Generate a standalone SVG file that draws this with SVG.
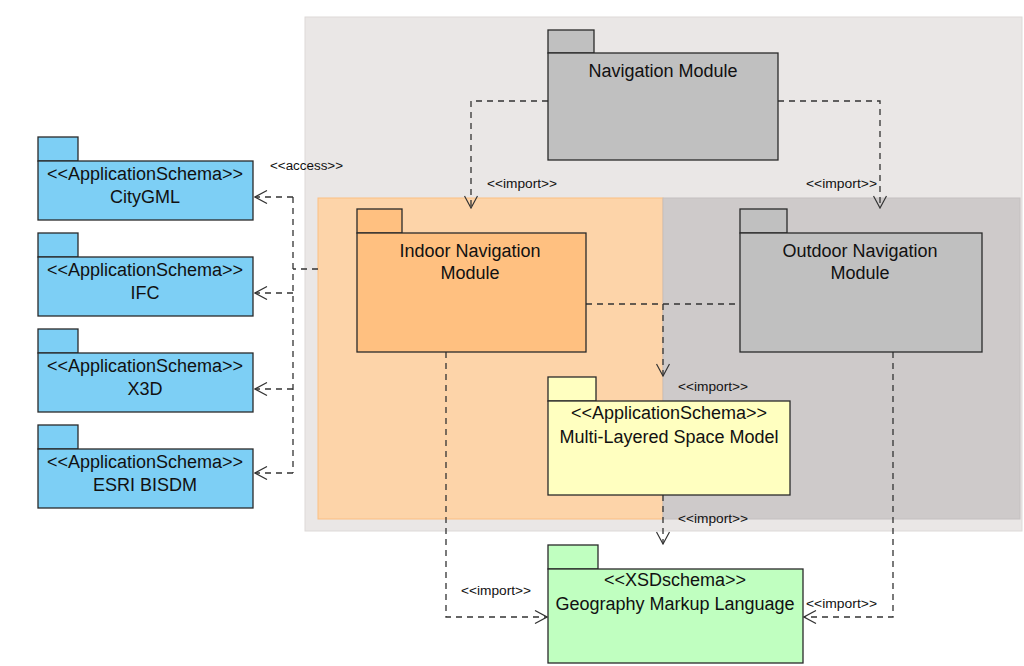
<svg xmlns="http://www.w3.org/2000/svg" width="1024" height="666" viewBox="0 0 1024 666">
  <style>
    .pkg { stroke: #2a2a2a; stroke-width: 1.3; }
    .blue { fill: #7DCFF5; }
    .grey { fill: #C0C0C0; }
    .orange { fill: #FFC080; }
    .yellow { fill: #FFFFC0; }
    .green { fill: #C0FFC0; }
    .title { font-family: "Liberation Sans", Arial, sans-serif; font-size: 18px; fill: #111; text-anchor: middle; }
    .lbl { font-family: "Liberation Sans", Arial, sans-serif; font-size: 12.5px; fill: #111; }
    .dep { fill: none; stroke: #333; stroke-width: 1.3; stroke-dasharray: 6 5; }
    .dep-end { fill: none; stroke: #333; stroke-width: 1.3; stroke-dasharray: 6 5; marker-end: url(#openArrow); }
  </style>
  <defs>
    <marker id="openArrow" viewBox="0 0 14 14" refX="13" refY="7" markerWidth="14" markerHeight="14" markerUnits="userSpaceOnUse" orient="auto">
      <path d="M1,0.5 L13,7 L1,13.5" fill="none" stroke="#333" stroke-width="1.2"/>
    </marker>
  </defs>

  <rect width="1024" height="666" fill="#ffffff"/>

  <!-- background regions -->
  <g id="regions">
    <rect x="305" y="17" width="717" height="514" fill="#EAE7E6" stroke="#DDD9D8" stroke-width="1"/>
    <rect x="318" y="198" width="345" height="321" fill="#FDD4A9" stroke="#FBBF82" stroke-width="1"/>
    <rect x="663" y="198" width="357" height="321" fill="#CECACA" stroke="#C4C0C0" stroke-width="1"/>
  </g>

  <!-- connectors -->
  <g id="connectors">
    <!-- Navigation Module imports -->
    <polyline class="dep-end" points="548,101 471,101 471,208"/>
    <polyline class="dep-end" points="778,101 880,101 880,208"/>
    <!-- access to application schemas -->
    <line class="dep" x1="318" y1="269" x2="293" y2="269"/>
    <line class="dep" x1="293" y1="197" x2="293" y2="473"/>
    <polyline class="dep-end" points="293,197 255,197"/>
    <polyline class="dep-end" points="293,293 255,293"/>
    <polyline class="dep-end" points="293,389 255,389"/>
    <polyline class="dep-end" points="293,473 255,473"/>
    <!-- to Multi-Layered Space Model -->
    <line class="dep" x1="586" y1="304" x2="740" y2="304"/>
    <polyline class="dep-end" points="663,304 663,376"/>
    <!-- to GML -->
    <polyline class="dep-end" points="663,495 663,544"/>
    <polyline class="dep-end" points="446,352 446,617 547,617"/>
    <polyline class="dep-end" points="893,352 893,617 804,617"/>

    <text class="lbl" x="487" y="188" textLength="70" lengthAdjust="spacingAndGlyphs">&lt;&lt;import&gt;&gt;</text>
    <text class="lbl" x="806" y="188" textLength="71" lengthAdjust="spacingAndGlyphs">&lt;&lt;import&gt;&gt;</text>
    <text class="lbl" x="270" y="170" textLength="73" lengthAdjust="spacingAndGlyphs">&lt;&lt;access&gt;&gt;</text>
    <text class="lbl" x="678" y="391" textLength="70" lengthAdjust="spacingAndGlyphs">&lt;&lt;import&gt;&gt;</text>
    <text class="lbl" x="678" y="523" textLength="70" lengthAdjust="spacingAndGlyphs">&lt;&lt;import&gt;&gt;</text>
    <text class="lbl" x="461" y="595" textLength="70" lengthAdjust="spacingAndGlyphs">&lt;&lt;import&gt;&gt;</text>
    <text class="lbl" x="806" y="608" textLength="71" lengthAdjust="spacingAndGlyphs">&lt;&lt;import&gt;&gt;</text>
  </g>

  <!-- packages -->
  <g id="navigation-module">
    <rect class="pkg grey" x="548" y="30" width="46" height="23"/>
    <rect class="pkg grey" x="548" y="53" width="230" height="107"/>
    <text class="title" x="663" y="77">Navigation Module</text>
  </g>

  <g id="indoor-navigation-module">
    <rect class="pkg orange" x="357" y="209" width="45" height="24"/>
    <rect class="pkg orange" x="357" y="233" width="229" height="119"/>
    <text class="title" x="470" y="257">Indoor Navigation</text>
    <text class="title" x="470" y="279">Module</text>
  </g>

  <g id="outdoor-navigation-module">
    <rect class="pkg grey" x="740" y="209" width="47" height="24"/>
    <rect class="pkg grey" x="740" y="233" width="242" height="119"/>
    <text class="title" x="860" y="257">Outdoor Navigation</text>
    <text class="title" x="860" y="279">Module</text>
  </g>

  <g id="multi-layered-space-model">
    <rect class="pkg yellow" x="548" y="377" width="48" height="24"/>
    <rect class="pkg yellow" x="548" y="401" width="242" height="94"/>
    <text class="title" x="669" y="419">&lt;&lt;ApplicationSchema&gt;&gt;</text>
    <text class="title" x="669" y="443">Multi-Layered Space Model</text>
  </g>

  <g id="gml">
    <rect class="pkg green" x="548" y="545" width="50" height="24"/>
    <rect class="pkg green" x="548" y="569" width="255" height="94"/>
    <text class="title" x="675" y="586">&lt;&lt;XSDschema&gt;&gt;</text>
    <text class="title" x="675" y="610">Geography Markup Language</text>
  </g>

  <g id="citygml">
    <rect class="pkg blue" x="38" y="137" width="40" height="24"/>
    <rect class="pkg blue" x="38" y="161" width="215" height="59"/>
    <text class="title" x="145" y="180">&lt;&lt;ApplicationSchema&gt;&gt;</text>
    <text class="title" x="145" y="203">CityGML</text>
  </g>

  <g id="ifc">
    <rect class="pkg blue" x="38" y="233" width="40" height="24"/>
    <rect class="pkg blue" x="38" y="257" width="215" height="59"/>
    <text class="title" x="145" y="276">&lt;&lt;ApplicationSchema&gt;&gt;</text>
    <text class="title" x="145" y="299">IFC</text>
  </g>

  <g id="x3d">
    <rect class="pkg blue" x="38" y="329" width="40" height="24"/>
    <rect class="pkg blue" x="38" y="353" width="215" height="59"/>
    <text class="title" x="145" y="372">&lt;&lt;ApplicationSchema&gt;&gt;</text>
    <text class="title" x="145" y="395">X3D</text>
  </g>

  <g id="esri-bisdm">
    <rect class="pkg blue" x="38" y="425" width="40" height="24"/>
    <rect class="pkg blue" x="38" y="449" width="215" height="59"/>
    <text class="title" x="145" y="468">&lt;&lt;ApplicationSchema&gt;&gt;</text>
    <text class="title" x="145" y="491">ESRI BISDM</text>
  </g>
</svg>
